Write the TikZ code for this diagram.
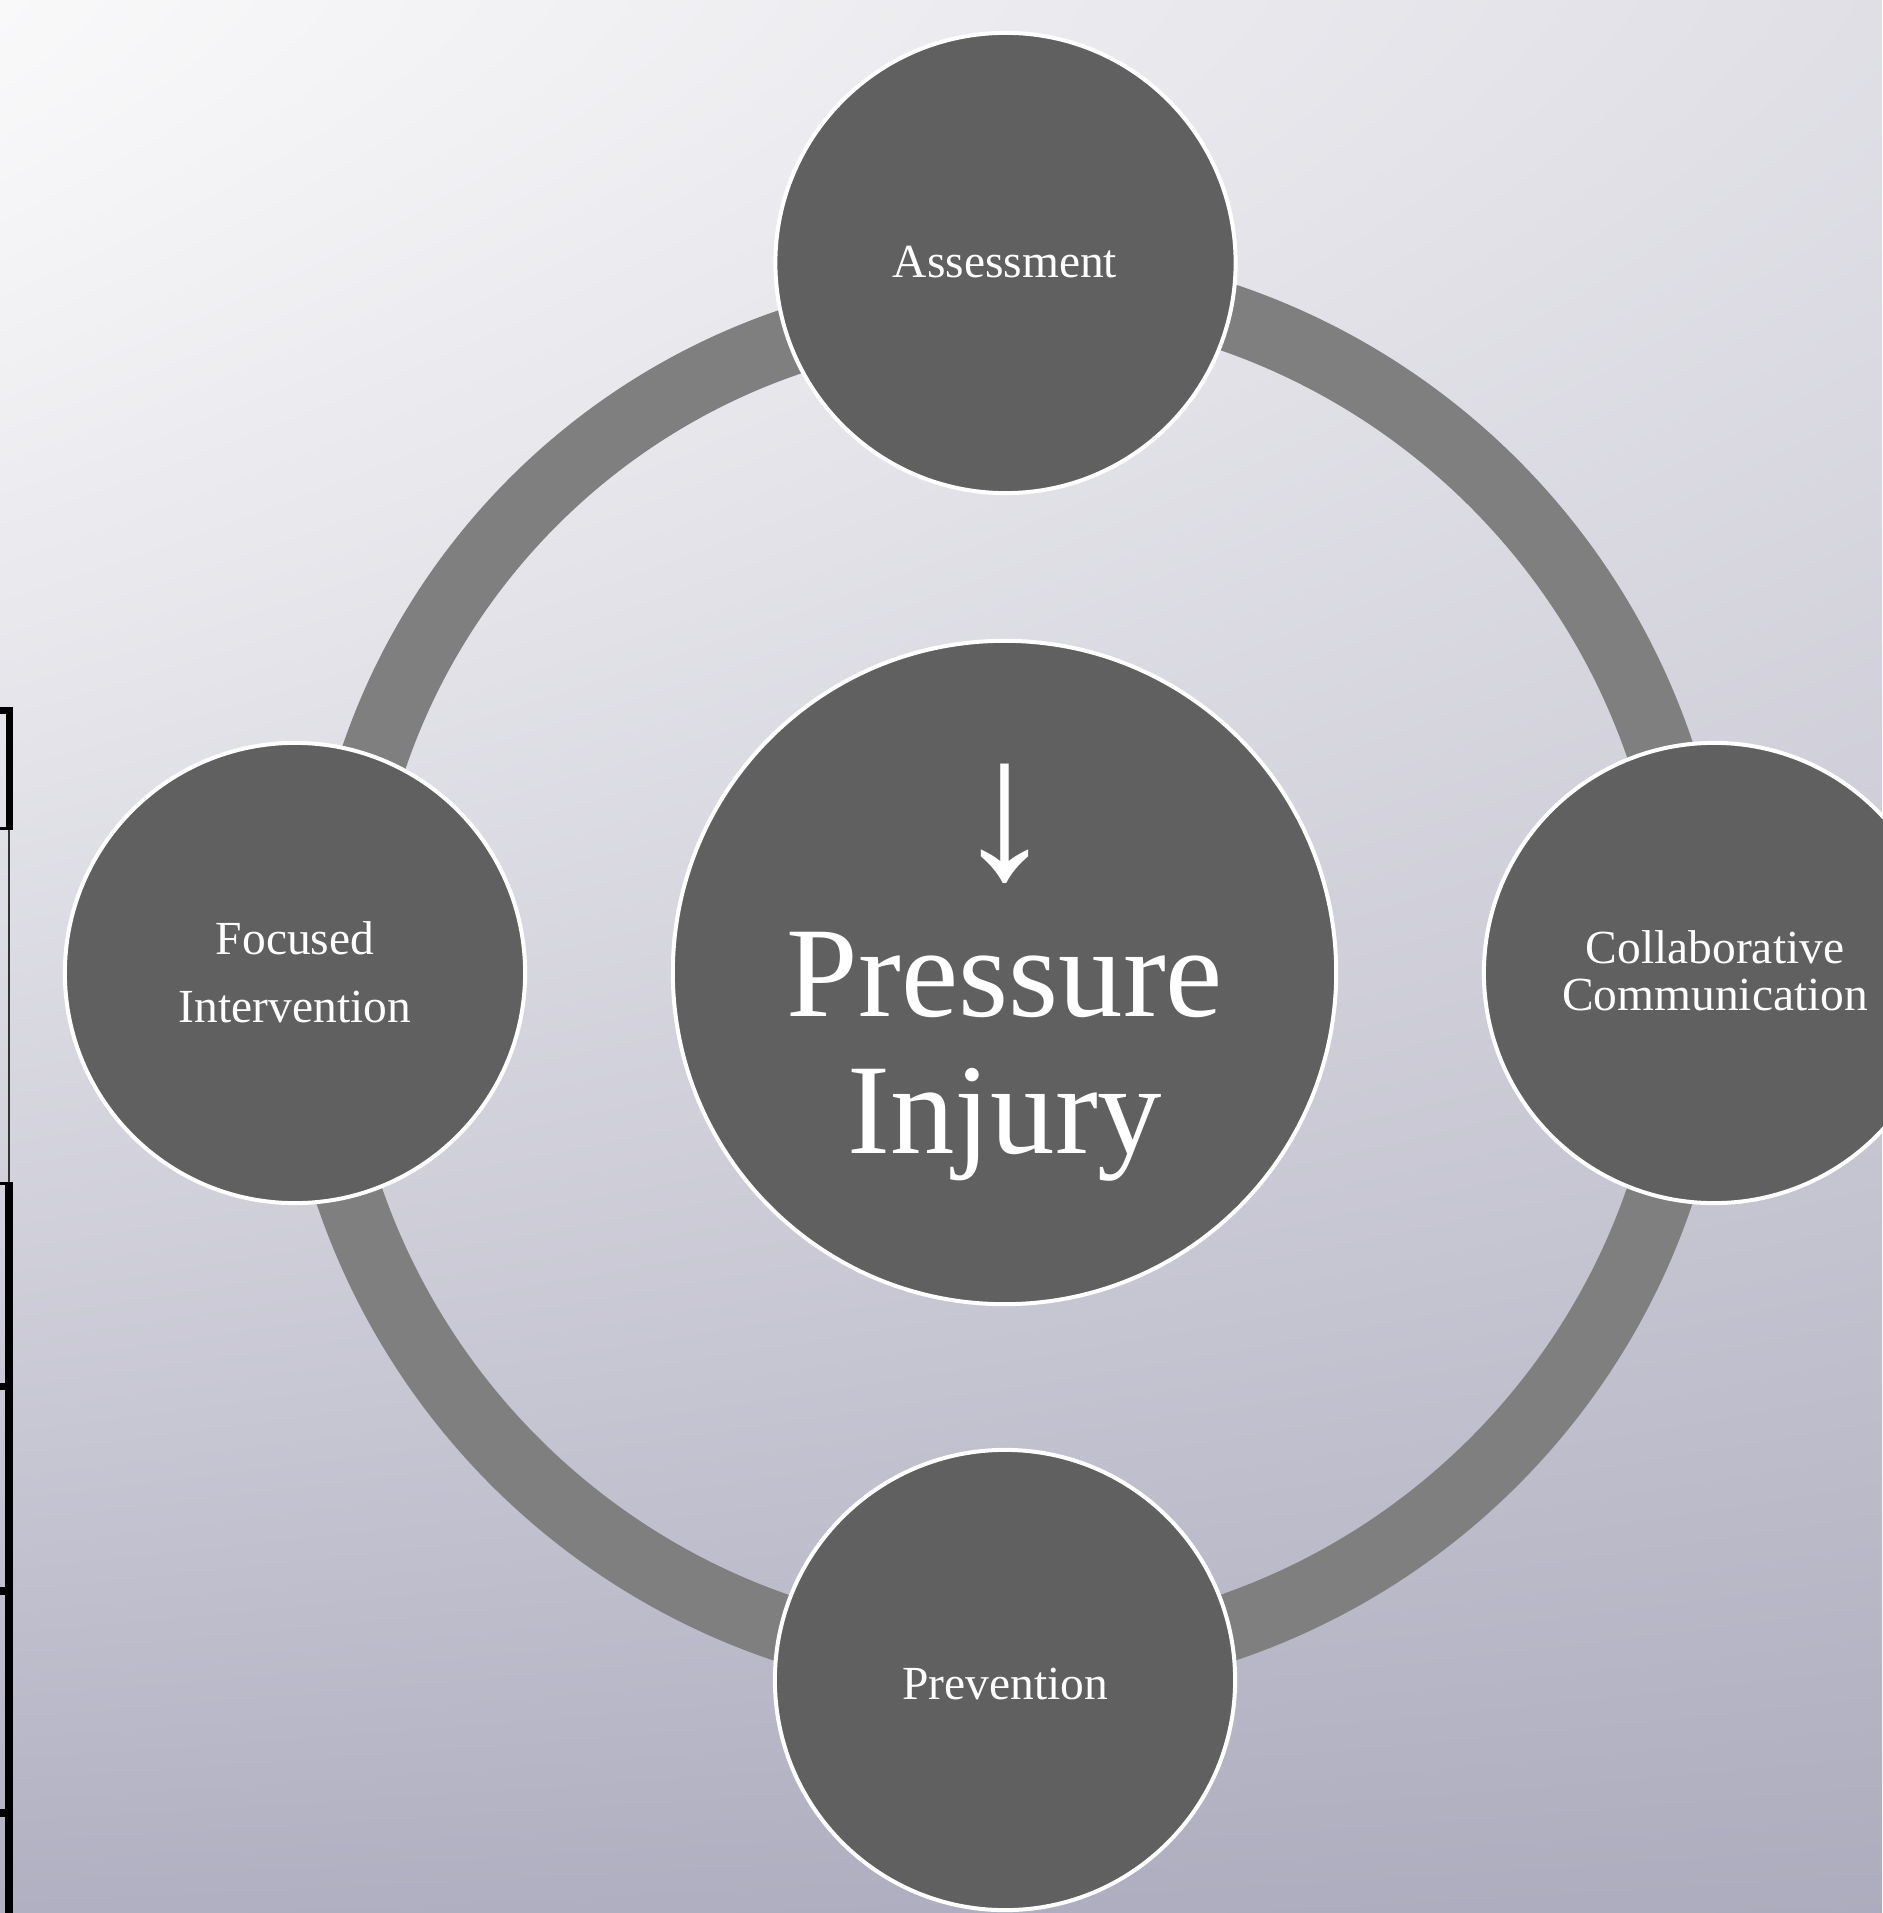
\documentclass[tikz,border=0pt]{standalone}
\usepackage{fontspec}
\setmainfont{Liberation Serif}
% soft backdrop: corner tints blended across, eased vertically
\pgfdeclarefunctionalshading{backdrop}{\pgfpoint{0bp}{0bp}}{\pgfpoint{100bp}{100bp}}{}{
25 sub 50 div dup 0 lt {pop 0} if dup 1 gt {pop 1} if
1 exch sub 1.3 exp 1 exch sub
exch 25 sub 50 div dup 0 lt {pop 0} if dup 1 gt {pop 1} if
2 copy mul -0.082 mul 2 index 0.282 mul add 1 index -0.016 mul add 0.694 add
2 index 2 index mul -0.086 mul 3 index 0.286 mul add 2 index -0.015 mul add 0.690 add
3 index 3 index mul -0.062 mul 4 index 0.219 mul add 3 index -0.016 mul add 0.761 add
5 3 roll pop pop
}
\definecolor{discgray}{HTML}{606060}
\definecolor{ringgray}{HTML}{7F7F7F}
\tikzset{
  disc/.style={circle, fill=discgray, draw=white, line width=0.04cm, inner sep=0, minimum size=#1},
  ringarc/.style={draw=ringgray, line width=0.67cm},
  lbl/.style={text=white, inner sep=0, anchor=base, font=\fontsize{13.5}{13.5}\selectfont},
  biglbl/.style={text=white, inner sep=0, anchor=base, font=\fontsize{36.6}{36.6}\selectfont},
  arrowlbl/.style={text=white, inner sep=0, anchor=base, font=\fontsize{57.4}{57.4}\selectfont}
}
\begin{document}
\begin{tikzpicture}[x=0.01cm, y=-0.01cm, line cap=butt]
\useasboundingbox (0,0) rectangle (1882,1913);
\shade[shading=backdrop] (0,0) rectangle (1882,1913);

% frame remnants along the left edge
\fill[black] (0,707) rectangle (13,714);
\fill[black] (6,707) rectangle (13,830);
\fill[black] (0,827) rectangle (13,830);
\fill[black!80] (7.5,830) rectangle (10,1182);
\fill[black] (0,1182) rectangle (13,1185);
\fill[black] (5,1182) rectangle (13,1913);
\fill[black] (0,1383) rectangle (5,1390);
\fill[black] (0,1587) rectangle (5,1595);
\fill[black] (0,1809) rectangle (5,1817);

\coordinate (hub) at (1004.5,972.5);
% cycle arcs, one per quarter (angles run clockwise on the page)
\draw[ringarc] ([shift={(180:666)}]hub) arc[start angle=180, end angle=270, radius=666];
\draw[ringarc] ([shift={(270:692)}]hub) arc[start angle=270, end angle=360, radius=692];
\draw[ringarc] ([shift={(0:692)}]hub) arc[start angle=0, end angle=90, radius=692];
\draw[ringarc] ([shift={(90:692)}]hub) arc[start angle=90, end angle=180, radius=692];

% discs
\node[disc=6.63cm] (core) at (hub) {};
\node[disc=4.6cm] (assess) at (1005.5,263) {};
\node[disc=4.6cm] (focus) at (295,973) {};
\node[disc=4.6cm] (collab) at (1714,973) {};
\node[disc=4.6cm] (prevent) at (1005,1680) {};

% labels
\node[lbl] (assessT) at (1005,278) {Assessment};
\node[lbl] (focusT1) at (295,954) {Focused};
\node[lbl] (focusT2) at (295,1022) {Intervention};
\node[lbl] (collabT1) at (1715,963) {Collaborative};
\node[lbl] (collabT2) at (1715,1010) {Communication};
\node[lbl] (preventT) at (1005,1699) {Prevention};
\node[arrowlbl] (arrowT) at (1005,877) {↓};
\node[biglbl] (coreT1) at (1005,1016) {Pressure};
\node[biglbl] (coreT2) at (1005,1153) {Injury};
\end{tikzpicture}
\end{document}
